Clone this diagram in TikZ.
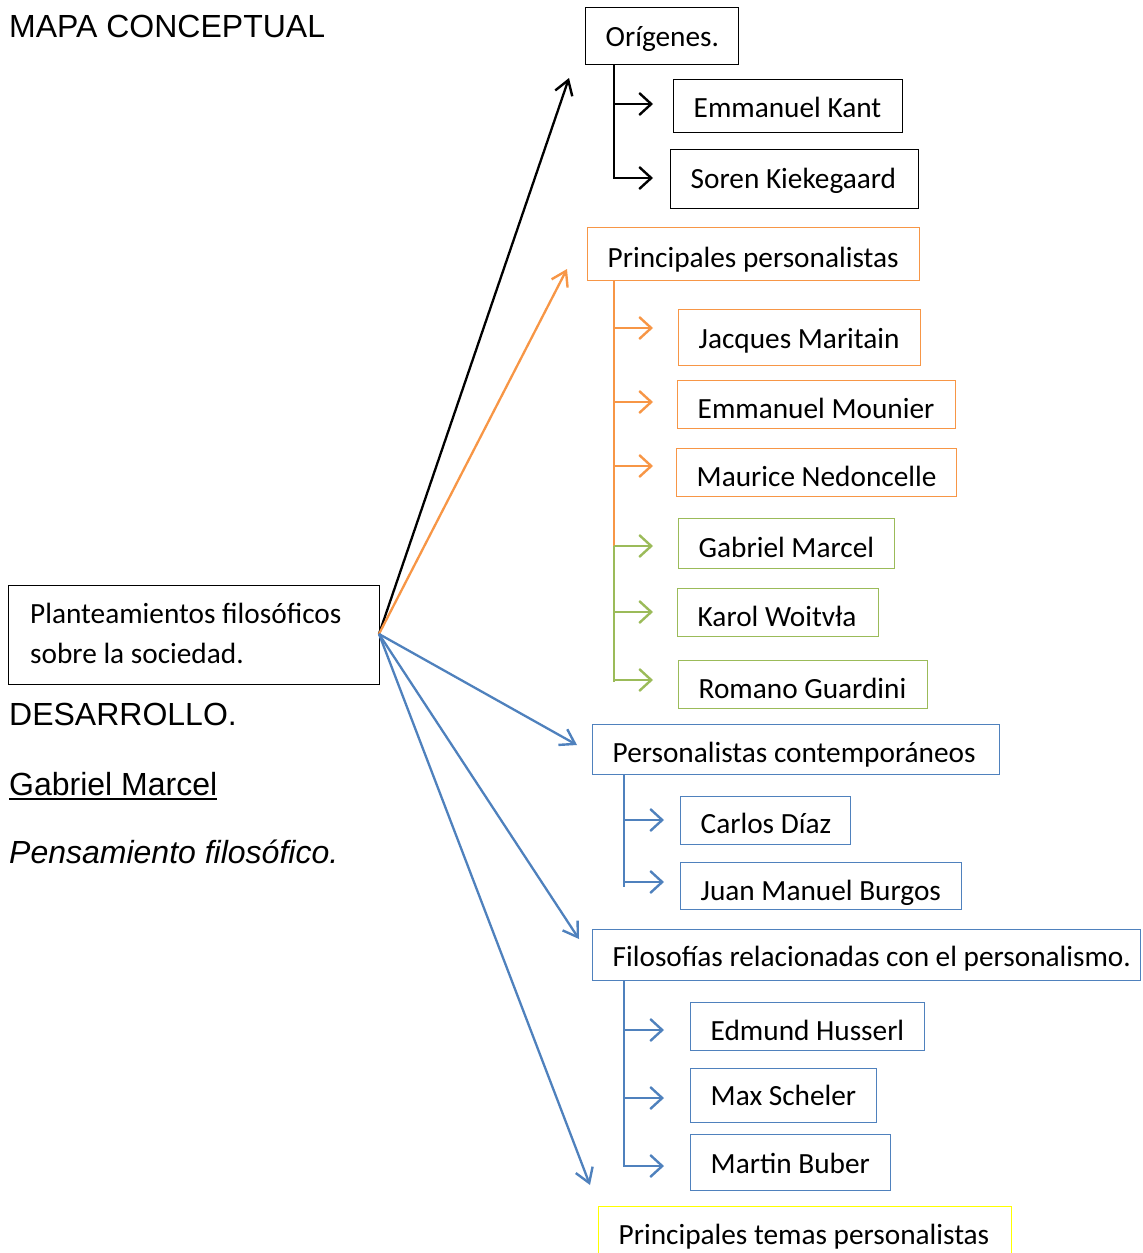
\documentclass[tikz,border=0pt]{standalone}
\usepackage{fontspec}
\setmainfont{Carlito}
\newfontfamily\arialf{Liberation Sans}
\usetikzlibrary{arrows.meta}
\definecolor{cOrange}{HTML}{F79646}
\definecolor{cGreen}{HTML}{9BBB59}
\definecolor{cBlue}{HTML}{4F81BD}
\definecolor{cYellow}{HTML}{FFFF00}
\tikzset{
  frame/.style={draw=#1, line width=1.3pt, inner sep=0pt, anchor=north west},
  lbl/.style={anchor=base west, inner sep=0pt, font=\fontsize{29.3}{36}\selectfont},
  plain/.style={anchor=base west, inner sep=0pt, font=\arialf\fontsize{32}{38}\selectfont},
  big/.style={line width=2.3pt, -{Straight Barb[length=14pt,width=18pt,line width=2.4pt]}},
  small/.style={line width=2.3pt, -{Straight Barb[length=12pt,width=22pt,line width=2.4pt]}},
  trunk/.style={line width=2.3pt},
}
\newcommand{\mybox}[8]{%
  \node[frame=#6, minimum width=#4-#2, minimum height=#5-#3] (#1) at (#2,#3) {};
  \node[lbl] (#1t) at ([shift={(20.5pt,-#8pt)}]#1.north west) {#7};
}
\begin{document}
\begin{tikzpicture}[x=1pt,y=-1pt]
\useasboundingbox (0,0) rectangle (1143,1253);
% left texts
\node[plain] (title) at (9,37) {MAPA CONCEPTUAL};
\node[plain] (desa) at (9,725) {DESARROLLO.};
\node[plain] (gm) at (9,795) {Gabriel Marcel};
\draw[line width=2pt] (gm.base west)++(0,4) coordinate (ul1) -- (gm.base east|-ul1) coordinate (ul2);
\node[plain, font=\arialf\itshape\fontsize{32}{38}\selectfont] (pens) at (9,863) {Pensamiento filosófico.};
% central box
\node[frame=black, minimum width=371, minimum height=99] (center) at (8,585) {};
\node[lbl] (c1) at (30,623) {Planteamientos filosóficos};
\node[lbl] (c2) at (30,663) {sobre la sociedad.};
\coordinate (hub) at (379,634);
% boxes
\mybox{orig}{585}{7}{738}{64}{black}{Orígenes.}{39}
\mybox{kant}{673}{79}{902}{132}{black}{Emmanuel Kant}{38}
\mybox{soren}{670}{149}{918}{208}{black}{Soren Kiekegaard}{39}
\mybox{pp}{587}{227}{919}{280}{cOrange}{Principales personalistas}{40}
\mybox{jm}{678}{309}{920}{365}{cOrange}{Jacques Maritain}{39}
\mybox{em}{677}{380}{955}{428}{cOrange}{Emmanuel Mounier}{38}
\mybox{mn}{676}{448}{956}{496}{cOrange}{Maurice Nedoncelle}{38}
\mybox{gab}{678}{518}{894}{568}{cGreen}{Gabriel Marcel}{39}
\mybox{kw}{677}{588}{878}{636}{cGreen}{Karol Woitvła}{38}
\mybox{rg}{678}{660}{927}{708}{cGreen}{Romano Guardini}{38}
\mybox{pc}{592}{724}{999}{774}{cBlue}{Personalistas contemporáneos}{38}
\mybox{cd}{680}{796}{850}{844}{cBlue}{Carlos Díaz}{37}
\mybox{jb}{680}{862}{961}{909}{cBlue}{Juan Manuel Burgos}{38}
\mybox{fr}{592}{929}{1140}{980}{cBlue}{Filosofías relacionadas con el personalismo.}{37}
\mybox{eh}{690}{1002}{924}{1050}{cBlue}{Edmund Husserl}{38}
\mybox{ms}{690}{1068}{876}{1122}{cBlue}{Max Scheler}{37}
\mybox{mb}{690}{1134}{890}{1190}{cBlue}{Martin Buber}{39}
\mybox{pt}{598}{1206}{1011}{1270}{cYellow}{Principales temas personalistas}{38}
% main arrows
\coordinate (a1) at (569,78);
\coordinate (a2) at (567,269);
\coordinate (a3) at (577,745);
\coordinate (a4) at (579,939);
\coordinate (a5) at (590,1185);
\draw[big, black] (hub) -- (a1);
\draw[big, cOrange] (hub) -- (a2);
\draw[big, cBlue] (hub) -- (a3);
\draw[big, cBlue] (hub) -- (a4);
\draw[big, cBlue] (hub) -- (a5);
% branches: black
\draw[trunk] (orig.south west-|614,0) -- (614,179);
\draw[small, black] (614,104) -- (653,104);
\draw[small, black] (614,178) -- (653,178);
% orange
\draw[trunk, cOrange] (pp.south west-|614,0) -- (614,546);
\draw[small, cOrange] (614,328) -- (653,328);
\draw[small, cOrange] (614,402) -- (653,402);
\draw[small, cOrange] (614,466) -- (653,466);
% green
\draw[trunk, cGreen] (614,546) -- (614,682);
\draw[small, cGreen] (614,546) -- (653,546);
\draw[small, cGreen] (614,612) -- (653,612);
\draw[small, cGreen] (614,680) -- (653,680);
% blue 1
\draw[trunk, cBlue] (pc.south west-|624,0) -- (624,887);
\draw[small, cBlue] (624,820) -- (664,820);
\draw[small, cBlue] (624,882) -- (664,882);
% blue 2
\draw[trunk, cBlue] (fr.south west-|624,0) -- (624,1167);
\draw[small, cBlue] (624,1030) -- (664,1030);
\draw[small, cBlue] (624,1098) -- (664,1098);
\draw[small, cBlue] (624,1166) -- (664,1166);
\end{tikzpicture}
\end{document}
